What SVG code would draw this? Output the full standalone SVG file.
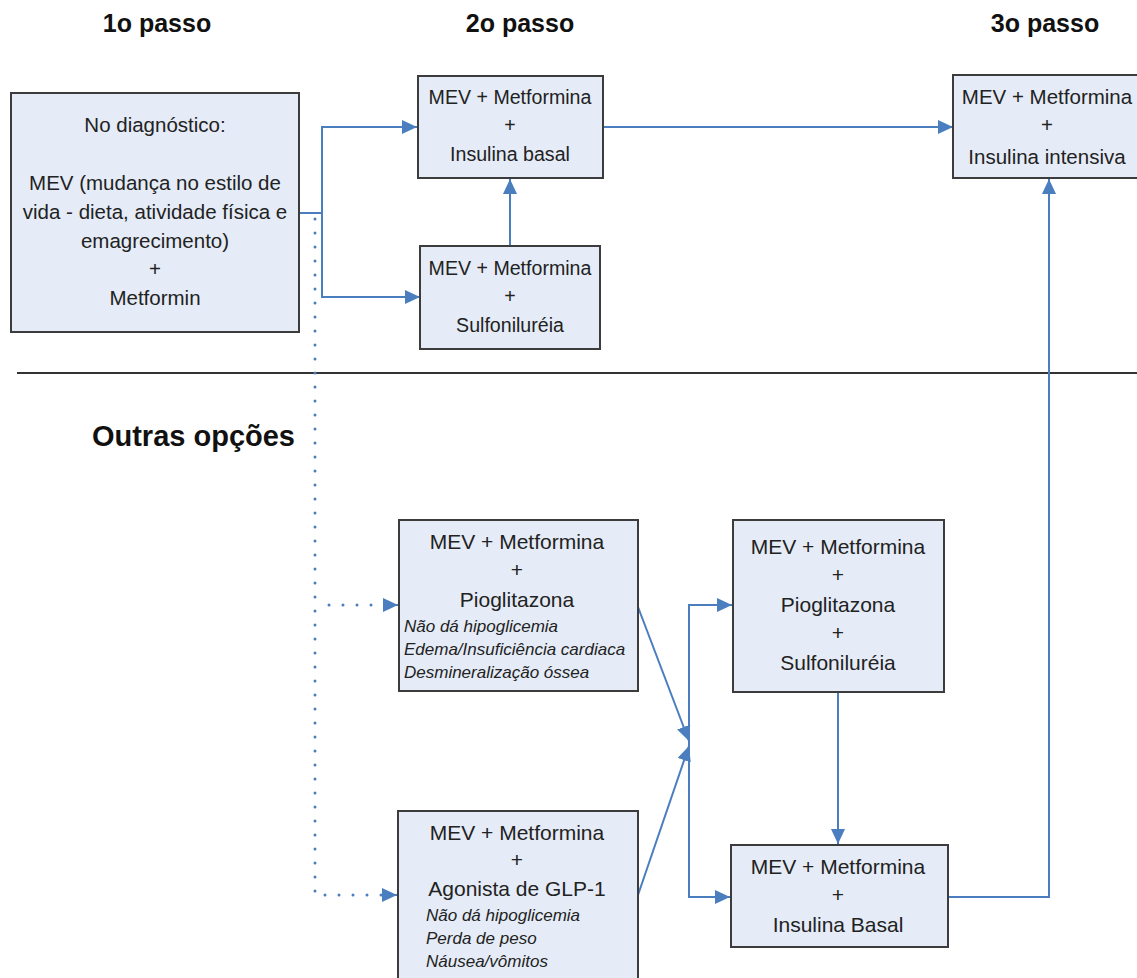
<svg xmlns="http://www.w3.org/2000/svg" width="1137" height="978" viewBox="0 0 1137 978">
<style>
.box{fill:#e5ecf7;stroke:#3c3c3c;stroke-width:2}
.t{font-family:"Liberation Sans",Arial,sans-serif;fill:#222;text-anchor:middle}
.i{font-family:"Liberation Sans",Arial,sans-serif;fill:#222;font-style:italic;font-size:17px}
.h{font-family:"Liberation Sans",Arial,sans-serif;font-weight:bold;fill:#111}
.c{fill:none;stroke:#4a7ebf;stroke-width:2}
.d{fill:none;stroke:#4a7ebf;stroke-width:3;stroke-dasharray:0 14;stroke-linecap:round}
</style>
<defs>
<marker id="a" markerUnits="userSpaceOnUse" markerWidth="16" markerHeight="14" refX="15" refY="7" orient="auto">
<path d="M0,0 L15,7 L0,14 Z" fill="#4a7ebf"/>
</marker>
</defs>
<rect width="1137" height="978" fill="#fff"/>
<g id="headers">
<text class="h" x="157" y="32" font-size="25" text-anchor="middle">1o passo</text>
<text class="h" x="520" y="32" font-size="25" text-anchor="middle">2o passo</text>
<text class="h" x="1045" y="32" font-size="25" text-anchor="middle">3o passo</text>
<text class="h" x="295" y="446" font-size="29" text-anchor="end">Outras opções</text>
</g>
<line x1="17" y1="373" x2="1137" y2="373" stroke="#333" stroke-width="2"/>
<g id="connectors">
<polyline class="c" points="299,213 322,213"/>
<polyline class="c" points="322,297 322,127 417,127" marker-end="url(#a)"/>
<polyline class="c" points="322,213 322,297 420,297" marker-end="url(#a)"/>
<polyline class="c" points="510,246 510,179" marker-end="url(#a)"/>
<polyline class="c" points="603,127 953,127" marker-end="url(#a)"/>
<path class="d" d="M315,219 L315,895 L386,895"/>
<path class="d" d="M329,605 L386,605"/>
<polyline class="c" points="386,605 398,605" marker-end="url(#a)"/>
<polyline class="c" points="386,895 397,895" marker-end="url(#a)"/>
<polyline class="c" points="638,607 689,741" marker-end="url(#a)"/>
<polyline class="c" points="638,895 689,746" marker-end="url(#a)"/>
<polyline class="c" points="732,605 689,605 689,897 730,897"/>
<polyline class="c" points="700,605 732,605" marker-end="url(#a)"/>
<polyline class="c" points="700,897 730,897" marker-end="url(#a)"/>
<polyline class="c" points="838,692 838,844" marker-end="url(#a)"/>
<polyline class="c" points="948,897 1049,897 1049,179" marker-end="url(#a)"/>
</g>
<g id="n1">
<rect class="box" x="11" y="93" width="288" height="239"/>
<text class="t" font-size="20.5" x="155" y="132">No diagnóstico:</text>
<text class="t" font-size="20.5" x="155" y="190">MEV (mudança no estilo de</text>
<text class="t" font-size="20.5" x="155" y="219">vida - dieta, atividade física e</text>
<text class="t" font-size="20.5" x="155" y="248">emagrecimento)</text>
<text class="t" font-size="20.5" x="155" y="276">+</text>
<text class="t" font-size="20.5" x="155" y="305">Metformin</text>
</g>
<g id="n2">
<rect class="box" x="418" y="76" width="185" height="102"/>
<text class="t" font-size="19.6" x="510" y="104">MEV + Metformina</text>
<text class="t" font-size="19.6" x="510" y="132">+</text>
<text class="t" font-size="19.6" x="510" y="161">Insulina basal</text>
</g>
<g id="n3">
<rect class="box" x="420" y="246" width="180" height="103"/>
<text class="t" font-size="19.6" x="510" y="275">MEV + Metformina</text>
<text class="t" font-size="19.6" x="510" y="303">+</text>
<text class="t" font-size="19.6" x="510" y="332">Sulfoniluréia</text>
</g>
<g id="n4">
<rect class="box" x="953" y="75" width="195" height="103"/>
<text class="t" font-size="20.5" x="1047" y="104">MEV + Metformina</text>
<text class="t" font-size="20.5" x="1047" y="132">+</text>
<text class="t" font-size="20.5" x="1047" y="164">Insulina intensiva</text>
</g>
<g id="n5">
<rect class="box" x="399" y="520" width="239" height="171"/>
<text class="t" font-size="21" x="517" y="549">MEV + Metformina</text>
<text class="t" font-size="21" x="517" y="577">+</text>
<text class="t" font-size="21" x="517" y="607">Pioglitazona</text>
<text class="i" x="404" y="632">Não dá hipoglicemia</text>
<text class="i" x="404" y="655">Edema/Insuficiência cardiaca</text>
<text class="i" x="404" y="678">Desmineralização óssea</text>
</g>
<g id="n6">
<rect class="box" x="398" y="811" width="240" height="180"/>
<text class="t" font-size="21" x="517" y="840">MEV + Metformina</text>
<text class="t" font-size="21" x="517" y="867">+</text>
<text class="t" font-size="21" x="517" y="896">Agonista de GLP-1</text>
<text class="i" x="426" y="921">Não dá hipoglicemia</text>
<text class="i" x="426" y="944">Perda de peso</text>
<text class="i" x="426" y="967">Náusea/vômitos</text>
</g>
<g id="n7">
<rect class="box" x="733" y="520" width="211" height="172"/>
<text class="t" font-size="21" x="838" y="554">MEV + Metformina</text>
<text class="t" font-size="21" x="838" y="582">+</text>
<text class="t" font-size="21" x="838" y="612">Pioglitazona</text>
<text class="t" font-size="21" x="838" y="640">+</text>
<text class="t" font-size="21" x="838" y="670">Sulfoniluréia</text>
</g>
<g id="n8">
<rect class="box" x="731" y="845" width="217" height="102"/>
<text class="t" font-size="21" x="838" y="874">MEV + Metformina</text>
<text class="t" font-size="21" x="838" y="902">+</text>
<text class="t" font-size="21" x="838" y="932">Insulina Basal</text>
</g>
</svg>
